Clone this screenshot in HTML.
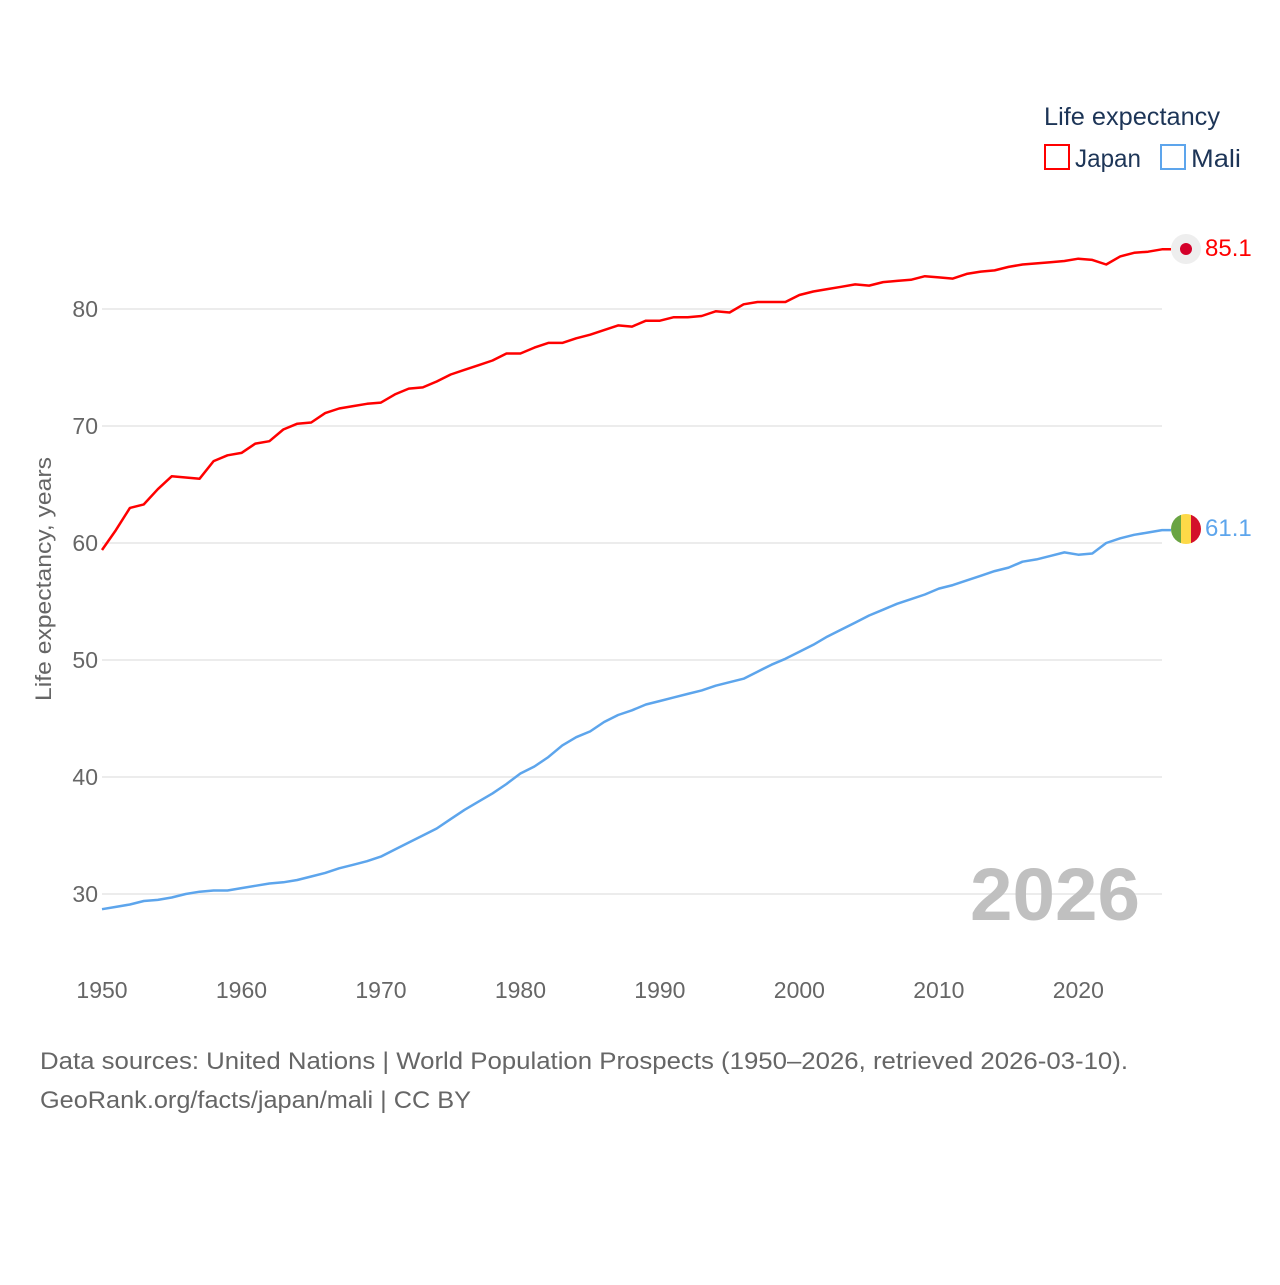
<!DOCTYPE html>
<html><head><meta charset="utf-8">
<style>
body{margin:0;background:#fff;font-family:"Liberation Sans",sans-serif;}
svg text{font-family:"Liberation Sans",sans-serif;}
</style></head>
<body>
<svg width="1280" height="1280" viewBox="0 0 1280 1280" xmlns="http://www.w3.org/2000/svg">
<g id="grid"></g>
<g id="yticks"></g>
<g id="xticks"></g>
<text transform="translate(51,579) rotate(-90)" text-anchor="middle" font-size="22" fill="#666" textLength="244" lengthAdjust="spacingAndGlyphs">Life expectancy, years</text>
<text x="1140" y="920" text-anchor="end" font-size="74" font-weight="bold" fill="#c0c0c0" textLength="170" lengthAdjust="spacingAndGlyphs">2026</text>
<g id="series"></g>
<g>
<text x="1044" y="125" font-size="25" fill="#1d3557" textLength="176" lengthAdjust="spacingAndGlyphs">Life expectancy</text>
<g>
<rect x="1045" y="145" width="24" height="24" fill="none" stroke="#ff0000" stroke-width="2"/>
<text x="1075" y="167" font-size="25" fill="#1d3557" textLength="66" lengthAdjust="spacingAndGlyphs">Japan</text></g>
<g>
<rect x="1161" y="145" width="24" height="24" fill="none" stroke="#5da5ec" stroke-width="2"/>
<text x="1191" y="167" font-size="25" fill="#1d3557" textLength="50" lengthAdjust="spacingAndGlyphs">Mali</text></g>
</g>
<g>
<circle cx="1186" cy="249" r="15" fill="#eeeeee"/>
<circle cx="1186" cy="249" r="6" fill="#d4002a"/>
<text x="1205" y="256" font-size="24" fill="#ff0000">85.1</text>
</g>
<g>
<clipPath id="fc"><circle cx="1186" cy="529" r="15"/></clipPath>
<g clip-path="url(#fc)"><rect x="1171" y="514" width="10" height="30" fill="#6aa443"/><rect x="1181" y="514" width="10" height="30" fill="#fdd948"/><rect x="1191" y="514" width="10" height="30" fill="#d3102a"/></g>
<text x="1205" y="536" font-size="24" fill="#5da5ec">61.1</text>
</g>
<text x="40" y="1069" font-size="24" fill="#666" textLength="1088" lengthAdjust="spacingAndGlyphs">Data sources: United Nations | World Population Prospects (1950–2026, retrieved 2026-03-10).</text>
<text x="40" y="1108" font-size="24" fill="#666" textLength="431" lengthAdjust="spacingAndGlyphs">GeoRank.org/facts/japan/mali | CC BY</text>
</svg>
<script>
const years=[];for(let y=1950;y<=2026;y++)years.push(y);
const japan=[59.4,61.1,63.0,63.3,64.6,65.7,65.6,65.5,67.0,67.5,67.7,68.5,68.7,69.7,70.2,70.3,71.1,71.5,71.7,71.9,72.0,72.7,73.2,73.3,73.8,74.4,74.8,75.2,75.6,76.2,76.2,76.7,77.1,77.1,77.5,77.8,78.2,78.6,78.5,79.0,79.0,79.3,79.3,79.4,79.8,79.7,80.4,80.6,80.6,80.6,81.2,81.5,81.7,81.9,82.1,82.0,82.3,82.4,82.5,82.8,82.7,82.6,83.0,83.2,83.3,83.6,83.8,83.9,84.0,84.1,84.3,84.2,83.8,84.5,84.8,84.9,85.1];
const mali=[28.7,28.9,29.1,29.4,29.5,29.7,30.0,30.2,30.3,30.3,30.5,30.7,30.9,31.0,31.2,31.5,31.8,32.2,32.5,32.8,33.2,33.8,34.4,35.0,35.6,36.4,37.2,37.9,38.6,39.4,40.3,40.9,41.7,42.7,43.4,43.9,44.7,45.3,45.7,46.2,46.5,46.8,47.1,47.4,47.8,48.1,48.4,49.0,49.6,50.1,50.7,51.3,52.0,52.6,53.2,53.8,54.3,54.8,55.2,55.6,56.1,56.4,56.8,57.2,57.6,57.9,58.4,58.6,58.9,59.2,59.0,59.1,60.0,60.4,60.7,60.9,61.1];
const yTicks=[30,40,50,60,70,80];
const xTicks=[1950,1960,1970,1980,1990,2000,2010,2020];
const NS="http://www.w3.org/2000/svg";
const xs=y=>102+(y-1950)*(1060/76);
const ys=v=>894-(v-30)*11.7;
const grid=document.getElementById('grid'),yt=document.getElementById('yticks'),xt=document.getElementById('xticks'),ser=document.getElementById('series');
yTicks.forEach(v=>{
 const l=document.createElementNS(NS,'line');
 
 
 l.setAttribute('x1',102);l.setAttribute('x2',1162);l.setAttribute('y1',ys(v));l.setAttribute('y2',ys(v));
 l.setAttribute('stroke','#e6e6e6');l.setAttribute('stroke-width','1.5');grid.appendChild(l);
 const t=document.createElementNS(NS,'text');
 
 
 t.setAttribute('x',98);t.setAttribute('y',ys(v)+8);t.setAttribute('text-anchor','end');t.setAttribute('font-size','23');t.setAttribute('fill','#666');
 t.textContent=v;yt.appendChild(t);
});
xTicks.forEach(v=>{
 const t=document.createElementNS(NS,'text');
 
 
 t.setAttribute('x',xs(v));t.setAttribute('y',998);t.setAttribute('text-anchor','middle');t.setAttribute('font-size','23');t.setAttribute('fill','#666');
 t.textContent=v;xt.appendChild(t);
});
function line(data,color,name){
 let d=data.map((v,i)=>(i?'L':'M')+xs(years[i]).toFixed(1)+','+ys(v).toFixed(1)).join(' ');
 d+=' L1171,'+ys(data[data.length-1]).toFixed(1);
 const p=document.createElementNS(NS,'path');
 
 
 p.setAttribute('d',d);p.setAttribute('fill','none');p.setAttribute('stroke',color);p.setAttribute('stroke-width','2.5');p.setAttribute('stroke-linejoin','round');
 ser.appendChild(p);
}
line(japan,'#ff0000','japan-line');
line(mali,'#5da5ec','mali-line');
</script>
</body></html>
